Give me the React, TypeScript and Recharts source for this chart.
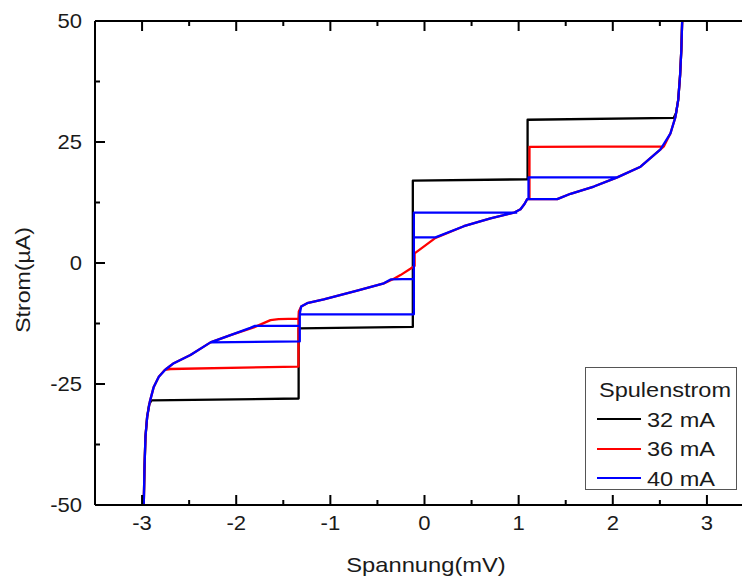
import { LineChart, Line, XAxis, YAxis, Legend } from "recharts";

// Strom-Spannungs-Kennlinien bei drei Spulenströmen (Spannung in mV, Strom in µA)
// each series is a list of traced segments [U, I]

const curve32: number[][][] = [
  [
    [-2.982, -50], [-2.975, -42.8], [-2.964, -35.9], [-2.946, -31.8], [-2.925, -29.2],
    [-2.9, -28.4], [-1.337, -28.0], [-1.337, -13.5], [-0.124, -13.2], [-0.124, 17.0],
    [1.095, 17.3], [1.095, 29.6], [2.648, 30.0], [2.672, 31.0], [2.695, 33.7],
    [2.715, 38.8], [2.728, 44], [2.737, 50],
  ],
];

const curve36: number[][][] = [
  [
    [-2.982, -50], [-2.975, -42.8], [-2.964, -35.9], [-2.946, -31.8], [-2.918, -28.7],
    [-2.876, -25.6], [-2.822, -23.5], [-2.76, -22.1], [-2.7, -21.9], [-1.339, -21.4],
    [-1.339, -11.5], [-1.335, -10.0], [-1.31, -9.0], [-1.246, -8.3], [-1.07, -7.5],
    [-0.715, -5.7], [-0.432, -4.2], [-0.33, -3.3], [-0.255, -2.5], [-0.15, -1.2],
    [-0.105, -0.6], [-0.105, 2.0], [0.117, 5.2], [0.418, 7.6], [0.701, 9.2],
    [0.949, 10.4], [1.02, 11.1], [1.062, 12.2], [1.091, 13.2], [1.115, 13.3],
    [1.115, 24.0], [2.542, 24.1], [2.613, 26.8], [2.666, 30.2], [2.695, 33.7],
    [2.715, 38.8], [2.728, 44], [2.737, 50],
  ],
  [
    [-2.751, -22.0], [-2.663, -20.7], [-2.486, -19.0], [-2.273, -16.4], [-2.061, -14.9],
    [-1.813, -13.3], [-1.636, -11.8], [-1.55, -11.6], [-1.339, -11.5],
  ],
  [
    [1.091, 13.2], [1.41, 13.2], [1.551, 14.3], [1.799, 15.8], [2.047, 17.7],
    [2.295, 19.9], [2.507, 23.5], [2.542, 24.1],
  ],
];

const curve40: number[][][] = [
  [
    [-2.982, -50], [-2.975, -42.8], [-2.964, -35.9], [-2.946, -31.8], [-2.918, -28.7],
    [-2.876, -25.6], [-2.822, -23.5], [-2.751, -22.0], [-2.663, -20.7], [-2.486, -19.0],
    [-2.273, -16.4], [-1.325, -16.2], [-1.325, -10.5], [-1.31, -9.0], [-1.246, -8.3],
    [-1.07, -7.5], [-0.715, -5.7], [-0.432, -4.2], [-0.36, -3.4], [-0.113, -3.3],
    [-0.113, 5.3], [0.117, 5.3], [0.418, 7.6], [0.701, 9.2], [0.949, 10.4],
    [1.02, 11.1], [1.062, 12.2], [1.091, 13.2], [1.41, 13.2], [1.551, 14.3],
    [1.799, 15.8], [2.047, 17.7], [2.295, 19.9], [2.507, 23.5], [2.613, 26.8],
    [2.666, 30.2], [2.695, 33.7], [2.715, 38.8], [2.728, 44], [2.737, 50],
  ],
  [[-2.273, -16.4], [-2.061, -14.9], [-1.85, -13.4], [-1.8, -13.0], [-1.325, -13.0]],
  [[-1.325, -10.6], [-0.113, -10.6], [-0.113, -3.3]],
  [[-0.113, 5.3], [-0.113, 10.4], [0.985, 10.4]],
  [[1.105, 13.2], [1.105, 17.7], [2.047, 17.7]],
];

const seriesNames = ["32 mA", "36 mA", "40 mA"];
const seriesColors = ["#000000", "#ff0000", "#0000ff"];

const xTicks = [-3, -2.5, -2, -1.5, -1, -0.5, 0, 0.5, 1, 1.5, 2, 2.5, 3];
const yTicks = [-50, -37.5, -25, -12.5, 0, 12.5, 25, 37.5, 50];

// segments -> one array, null point between segments gives a gap
const toRows = (segs: number[][][]) => {
  const rows: { v: number; i: number | null }[] = [];
  segs.forEach((seg, k) => {
    if (k > 0) rows.push({ v: seg[0][0], i: null });
    seg.forEach(([v, i]) => rows.push({ v, i }));
  });
  return rows;
};

const allSeries = [curve32, curve36, curve40].map(toRows);

const FONT = "'Liberation Sans', Arial, Helvetica, sans-serif";
const X_DOMAIN: [number, number] = [-3.5, 3.5];
const Y_DOMAIN: [number, number] = [-50, 50];

const isMajorX = (v: number) => Number.isInteger(v);
const isMajorY = (v: number) => v % 25 === 0;

// tick marks point into the plot; rects instead of lines
const BottomTick = (props: any) => {
  const x = Number(props.x);
  const y = Number(props.y);
  const v = props.payload.value;
  const len = isMajorX(v) ? 10 : 5;
  return (
    <g>
      <rect x={x - 1} y={y - len} width={2} height={len} fill="#000" />
      {isMajorX(v) && (
        <text
          transform={`translate(${x},${y + 25}) scale(1.05,1)`}
          textAnchor="middle"
          fontFamily={FONT}
          fontSize={21}
          fill="#1a1a1a"
        >
          {String(v)}
        </text>
      )}
    </g>
  );
};

const TopTick = (props: any) => {
  const x = Number(props.x);
  const y = Number(props.y);
  const len = isMajorX(props.payload.value) ? 10 : 5;
  return <rect x={x - 1} y={y} width={2} height={len} fill="#000" />;
};

const LeftTick = (props: any) => {
  const x = Number(props.x);
  const y = Number(props.y);
  const v = props.payload.value;
  const len = isMajorY(v) ? 10 : 5;
  return (
    <g>
      <rect x={x} y={y - 1} width={len} height={2} fill="#000" />
      {isMajorY(v) && (
        <text
          transform={`translate(${x - 13},${y}) scale(1.05,1)`}
          textAnchor="end"
          dy="0.355em"
          fontFamily={FONT}
          fontSize={21}
          fill="#1a1a1a"
        >
          {String(v)}
        </text>
      )}
    </g>
  );
};

const RightTick = (props: any) => {
  const x = Number(props.x);
  const y = Number(props.y);
  const len = isMajorY(props.payload.value) ? 10 : 5;
  return <rect x={x - len} y={y - 1} width={len} height={2} fill="#000" />;
};

const XTitle = (props: any) => {
  const { x, y, width } = props.viewBox;
  return (
    <text
      transform={`translate(${x + width / 2 + 1.5},${y + 67}) scale(1.13,1)`}
      textAnchor="middle"
      fontFamily={FONT}
      fontSize={21}
      fill="#1a1a1a"
    >
      Spannung(mV)
    </text>
  );
};

const YTitle = (props: any) => {
  const { x, y, height } = props.viewBox;
  return (
    <text
      transform={`translate(${x - 64},${y + height / 2 + 17}) rotate(-90) scale(1.1,1)`}
      textAnchor="middle"
      fontFamily={FONT}
      fontSize={21}
      fill="#1a1a1a"
    >
      Strom(µA)
    </text>
  );
};

const LegendBox = () => (
  <div
    style={{
      boxSizing: "border-box",
      width: 152,
      height: 123,
      border: "1px solid #555",
      background: "#fff",
      paddingTop: 7,
      fontFamily: FONT,
      fontSize: 21,
      color: "#1a1a1a",
    }}
  >
    <div style={{ height: 29.5, lineHeight: "29.5px", paddingLeft: 13 }}>
      <span style={{ display: "inline-block", transform: "scaleX(1.12)", transformOrigin: "left" }}>
        Spulenstrom
      </span>
    </div>
    {seriesNames.map((name, k) => (
      <div key={name} style={{ height: 29.5, display: "flex", alignItems: "center", lineHeight: "29.5px" }}>
        <div style={{ marginLeft: 11, width: 44, height: 2, background: seriesColors[k] }} />
        <span
          style={{
            marginLeft: 6,
            display: "inline-block",
            transform: "scaleX(1.12)",
            transformOrigin: "left",
            whiteSpace: "nowrap",
          }}
        >
          {name}
        </span>
      </div>
    ))}
  </div>
);

const axisLine = { stroke: "#000", strokeWidth: 2 };

export default function App() {
  return (
    <div style={{ margin: -8, width: 750, height: 585, overflow: "hidden", background: "#fff" }}>
      <LineChart width={760} height={585} margin={{ top: 20, right: 5, bottom: 79, left: 94 }}>
        <XAxis
          xAxisId="b"
          type="number"
          dataKey="v"
          domain={X_DOMAIN}
          allowDataOverflow
          ticks={xTicks}
          interval={0}
          height={1}
          tickSize={0}
          tickMargin={0}
          tickLine={false}
          tick={<BottomTick />}
          axisLine={axisLine}
          label={XTitle}
        />
        <XAxis
          xAxisId="t"
          orientation="top"
          type="number"
          dataKey="v"
          domain={X_DOMAIN}
          allowDataOverflow
          ticks={xTicks}
          interval={0}
          height={1}
          tickSize={0}
          tickMargin={0}
          tickLine={false}
          tick={<TopTick />}
          axisLine={axisLine}
        />
        <YAxis
          yAxisId="l"
          type="number"
          dataKey="i"
          domain={Y_DOMAIN}
          allowDataOverflow
          ticks={yTicks}
          interval={0}
          width={1}
          tickSize={0}
          tickMargin={0}
          tickLine={false}
          tick={<LeftTick />}
          axisLine={axisLine}
          label={YTitle}
        />
        <YAxis
          yAxisId="r"
          orientation="right"
          type="number"
          dataKey="i"
          domain={Y_DOMAIN}
          allowDataOverflow
          ticks={yTicks}
          interval={0}
          width={1}
          tickSize={0}
          tickMargin={0}
          tickLine={false}
          tick={<RightTick />}
          axisLine={axisLine}
        />
        <Legend
          layout="vertical"
          align="center"
          verticalAlign="middle"
          wrapperStyle={{ left: 585, top: 367, width: 152, height: 123 }}
          content={() => <LegendBox />}
        />
        {allSeries.map((rows, k) => (
          <Line
            key={seriesNames[k]}
            xAxisId="b"
            yAxisId="l"
            name={seriesNames[k]}
            data={rows}
            dataKey="i"
            type="linear"
            stroke={seriesColors[k]}
            strokeWidth={2.3}
            strokeLinejoin="round"
            dot={false}
            activeDot={false}
            isAnimationActive={false}
          />
        ))}
      </LineChart>
    </div>
  );
}
